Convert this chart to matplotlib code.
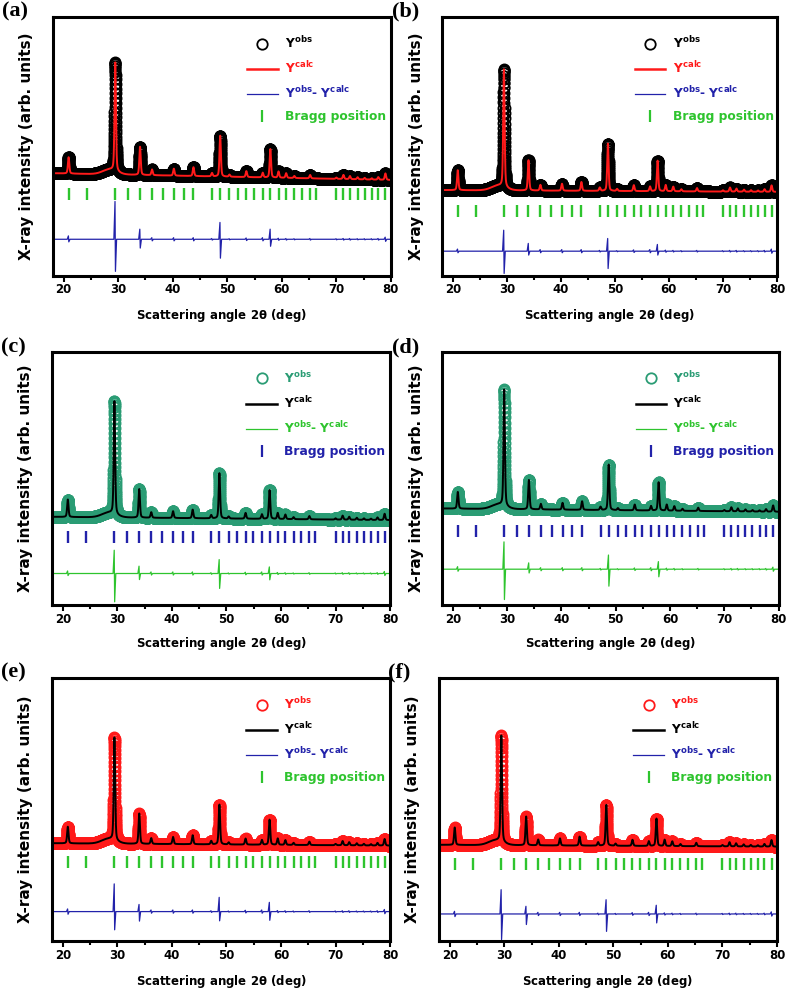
import numpy as np
import matplotlib
matplotlib.use("Agg")
import matplotlib.pyplot as plt
import matplotlib.ticker as mticker
from matplotlib.lines import Line2D

OUTPUT_PATH = "out.png"

# 2-theta sampling of the scans (deg)
TWO_THETA = np.arange(18.0, 80.0001, 0.01)

# strong reflections (deg) and their heights above background, one row per panel a-f
MAJOR_POS = [20.9, 29.45, 34.0, 48.7, 57.9]
MAJOR_HEIGHTS = [
    [6.3, 42.0, 10.9, 15.8, 11.0],   # a
    [7.7, 45.5, 11.7, 18.3, 11.8],   # b
    [6.9, 44.7, 11.3, 17.9, 11.4],   # c
    [6.6, 46.0, 11.6, 18.0, 11.2],   # d
    [6.3, 39.0, 11.5, 15.1, 9.5],    # e
    [6.6, 40.3, 10.9, 15.5, 10.4],   # f
]

# weak reflections, same for all samples
MINOR_POS = [36.2, 40.2, 43.8, 47.2, 50.4, 53.5, 56.5, 59.4, 60.8, 62.3,
             65.2, 70.0, 71.3, 72.5, 73.9, 75.2, 76.5, 77.7, 79.0]
MINOR_HEIGHTS = [2.2, 2.7, 3.4, 1.3, 0.8, 2.3, 1.8, 2.4, 1.8, 0.8,
                 1.3, 0.5, 1.6, 1.2, 0.8, 0.6, 0.5, 1.0, 2.5]

# broad amorphous hump under the main reflection
HUMP_POS, HUMP_HEIGHT = 28.4, 1.8

# background level at 18 and 80 deg, per panel
BACKGROUND = [
    [39.6, 37.0],
    [33.1, 32.4],
    [34.9, 33.6],
    [38.2, 36.9],
    [37.2, 36.3],
    [36.6, 35.9],
]

# Bragg reflection markers (deg)
BRAGG_POS = [20.9, 24.2, 29.45, 31.8, 34.0, 36.2, 38.2, 40.2, 42.0, 43.8,
             47.2, 48.7, 50.4, 51.9, 53.5, 54.9, 56.5, 57.9, 59.4, 60.8,
             62.3, 63.7, 65.2, 66.3, 70.0, 71.3, 72.5, 73.9, 75.2, 76.5,
             77.7, 79.0]

# difference curve: spikes (up, down) at the strong reflections, per panel
DIFF_UP = [
    [1.3, 14.6, 3.9, 6.5, 3.9],
    [0.8, 8.1, 3.0, 4.9, 2.6],
    [1.0, 9.2, 2.9, 5.5, 2.6],
    [1.0, 10.8, 2.5, 5.6, 3.0],
    [1.0, 10.5, 2.7, 5.4, 3.5],
    [1.0, 9.2, 2.9, 5.4, 3.3],
]
DIFF_DOWN = [
    [1.0, 12.4, 3.4, 7.3, 2.7],
    [0.6, 8.6, 1.5, 6.7, 1.5],
    [0.8, 11.2, 2.4, 5.9, 2.5],
    [0.8, 12.0, 1.5, 6.7, 3.0],
    [1.0, 6.9, 3.6, 3.5, 3.3],
    [1.0, 9.7, 4.0, 6.6, 3.4],
]
MINOR_DIFF = [0.6, 0.6, 0.6, 0.3, 0.2, 0.5, 0.6, 0.4, 0.3, 0.2,
              0.3, 0.2, 0.3, 0.3, 0.2, 0.2, 0.2, 0.3, 0.8]

PANELS = ["(a)", "(b)", "(c)", "(d)", "(e)", "(f)"]

# vertical placement of bragg ticks and difference curve (axes 0-100)
BRAGG_LEVEL = [31.6, 25.0, 27.0, 29.4, 30.0, 29.3]
DIFF_LEVEL = [14.1, 9.5, 12.5, 14.2, 11.3, 10.4]

RED, BLACK, BLUE, GREEN, TEAL = "#FF1A1A", "#000000", "#2222AA", "#2EC42E", "#2A9C74"
# (obs, calc, diff, bragg) colours per panel
COLORS = [
    (BLACK, RED, BLUE, GREEN),
    (BLACK, RED, BLUE, GREEN),
    (TEAL, BLACK, GREEN, BLUE),
    (TEAL, BLACK, GREEN, BLUE),
    (RED, BLACK, BLUE, GREEN),
    (RED, BLACK, BLUE, GREEN),
]

# axes rectangles in figure fraction
RECTS = [
    [0.067, 0.722, 0.429, 0.261],
    [0.561, 0.722, 0.425, 0.261],
    [0.066, 0.390, 0.429, 0.255],
    [0.561, 0.390, 0.427, 0.255],
    [0.066, 0.051, 0.429, 0.266],
    [0.557, 0.051, 0.429, 0.266],
]


def pseudo_voigt(x, center, height, fwhm, eta=0.4):
    u = (x - center) / fwhm
    g = np.exp(-4 * np.log(2) * u ** 2)
    lor = 1 / (1 + 4 * u ** 2)
    return height * (eta * lor + (1 - eta) * g)


def calc_pattern(i):
    x = TWO_THETA
    b0, b1 = BACKGROUND[i]
    y = b0 + (b1 - b0) * (x - x[0]) / (x[-1] - x[0])
    y = y + pseudo_voigt(x, HUMP_POS, HUMP_HEIGHT, 3.0, eta=0.0)
    for p, h in zip(MAJOR_POS, MAJOR_HEIGHTS[i]):
        y = y + pseudo_voigt(x, p, h, 0.3)
    for p, h in zip(MINOR_POS, MINOR_HEIGHTS):
        y = y + pseudo_voigt(x, p, h, 0.3)
    return y


def diff_curve(i):
    spikes = list(zip(MAJOR_POS, DIFF_UP[i], DIFF_DOWN[i]))
    spikes += [(p, a, a) for p, a in zip(MINOR_POS, MINOR_DIFF)]
    spikes.sort()
    xs, ys = [18.0], [0.0]
    for p, up, dn in spikes:
        xs += [p - 0.25, p - 0.04, p + 0.04, p + 0.25]
        ys += [0.0, up, -dn, 0.0]
    xs.append(80.0)
    ys.append(0.0)
    return np.array(xs), np.array(ys) + DIFF_LEVEL[i]


def main():
    plt.rcParams["font.family"] = ["DejaVu Sans"]
    plt.rcParams["font.weight"] = "bold"
    fig = plt.figure(figsize=(7.88, 9.92), dpi=100)

    for i, rect in enumerate(RECTS):
        ax = fig.add_axes(rect)
        c_obs, c_calc, c_diff, c_bragg = COLORS[i]
        y = calc_pattern(i)
        dx, dy = diff_curve(i)

        ax.plot(TWO_THETA, y, "o", ms=7.5, mfc="none", mec=c_obs, mew=1.1)
        ax.plot(TWO_THETA, y, color=c_calc, lw=1.4)
        ax.plot(BRAGG_POS, [BRAGG_LEVEL[i]] * len(BRAGG_POS), "|",
                ms=9, mew=1.7, color=c_bragg)
        ax.plot(dx, dy, color=c_diff, lw=0.9)

        ax.set_xlim(18, 80)
        ax.set_ylim(0, 100)
        ax.set_yticks([])
        ax.xaxis.set_major_locator(mticker.MultipleLocator(10))
        ax.xaxis.set_minor_locator(mticker.MultipleLocator(5))
        ax.tick_params(axis="x", which="both", direction="out", width=1.5,
                       labelsize=8.5, pad=1.5)
        ax.tick_params(axis="x", which="major", length=4)
        ax.tick_params(axis="x", which="minor", length=3)
        for lab in ax.get_xticklabels():
            lab.set_fontweight("bold")
        for sp in ax.spines.values():
            sp.set_linewidth(2.2)

        ax.set_xlabel(r"Scattering angle 2$\mathbf{\theta}$ (deg)",
                      fontsize=8.5, fontweight="bold")
        ax.xaxis.set_label_coords(0.5, -0.12)
        ax.text(-0.077, 0.5, "X-ray intensity (arb. units)", transform=ax.transAxes,
                rotation=90, ha="center", va="center", fontsize=11, fontweight="bold")
        ax.text(-0.15, 1.02, PANELS[i], transform=ax.transAxes, ha="left", va="center",
                fontsize=16, fontweight="bold", family="Liberation Serif")

        handles = [
            Line2D([], [], ls="none", marker="o", ms=7.5, mfc="none", mec=c_obs, mew=1.3),
            Line2D([], [], color=c_calc, lw=1.8),
            Line2D([], [], color=c_diff, lw=0.9),
            Line2D([], [], ls="none", marker="|", ms=9, mew=1.6, color=c_bragg),
        ]
        labels = [r"$\mathbf{Y^{obs}}$", r"$\mathbf{Y^{calc}}$",
                  r"$\mathbf{Y^{obs}}$- $\mathbf{Y^{calc}}$", "Bragg position"]
        ax.legend(handles, labels, loc="upper left", bbox_to_anchor=(0.575, 0.93),
                  frameon=False, handlelength=2.5, handletextpad=0.6,
                  labelspacing=0.75, borderpad=0, borderaxespad=0,
                  prop={"weight": "bold", "size": 8.8},
                  labelcolor=[c_obs, c_calc, c_diff, c_bragg])

    fig.savefig(OUTPUT_PATH, dpi=100)


if __name__ == "__main__":
    main()
